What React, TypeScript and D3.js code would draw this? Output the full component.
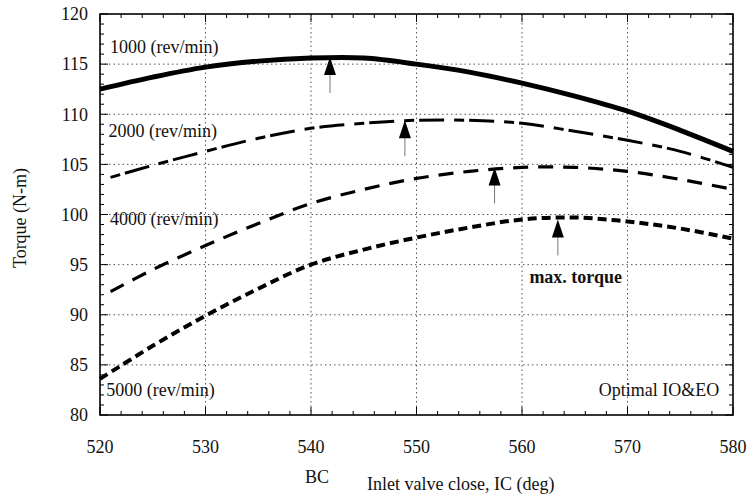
import * as d3 from "d3";

const ivc = [520, 525, 530, 535, 540, 545, 550, 555, 560, 565, 570, 575, 580];
const ivcFrom521 = [521, 525, 530, 535, 540, 545, 550, 555, 560, 565, 570, 575, 580];

const torque1000 = [112.5, 113.7, 114.7, 115.3, 115.6, 115.6, 115.0, 114.2, 113.1, 111.8, 110.3, 108.4, 106.3];
const torque2000 = [103.7, 104.9, 106.3, 107.6, 108.6, 109.1, 109.4, 109.4, 109.1, 108.3, 107.4, 106.3, 104.7];
const torque4000 = [92.3, 94.5, 96.9, 99.1, 101.1, 102.5, 103.6, 104.3, 104.7, 104.7, 104.3, 103.5, 102.5];
const torque5000 = [83.6, 86.9, 89.9, 92.6, 95.0, 96.5, 97.7, 98.7, 99.5, 99.7, 99.3, 98.6, 97.6];

const arrowIvc = [541.8, 548.9, 557.4, 563.4];
const arrowTorque = [115.7, 109.4, 104.7, 99.5];

const xTicks = [520, 530, 540, 550, 560, 570, 580];
const yTicks = [80, 85, 90, 95, 100, 105, 110, 115, 120];

const width = 754;
const height = 495;
const margin = { top: 14, right: 21, bottom: 80, left: 100 };
const font = "'Liberation Serif', 'Times New Roman', serif";

const series = [
  { label: "1000 (rev/min)", xs: ivc, ys: torque1000, width: 5, dash: "", lx: 520.95, ly: 116.1 },
  { label: "2000 (rev/min)", xs: ivcFrom521, ys: torque2000, width: 3, dash: "10 5 25 10", lx: 520.8, ly: 107.7 },
  { label: "4000 (rev/min)", xs: ivcFrom521, ys: torque4000, width: 3.2, dash: "15 10", lx: 520.95, ly: 99.0 },
  { label: "5000 (rev/min)", xs: ivc, ys: torque5000, width: 4, dash: "9 5", lx: 520.6, ly: 81.9 },
];

export default function App() {
  const innerW = width - margin.left - margin.right;
  const innerH = height - margin.top - margin.bottom;
  const x = d3.scaleLinear().domain([520, 580]).range([0, innerW]);
  const y = d3.scaleLinear().domain([80, 120]).range([innerH, 0]);
  const xMinor = d3.range(520, 581, 2);
  const yMinor = d3.range(80, 121, 1);

  return (
    <svg width={width} height={height} style={{ position: "absolute", left: 0, top: 0, background: "#fff" }} fontFamily={font}>
      <g transform={`translate(${margin.left},${margin.top})`}>
        {/* dotted grid */}
        {xTicks.slice(1, -1).map((t) => (
          <line key={`gx${t}`} x1={x(t)} x2={x(t)} y1={0} y2={innerH} stroke="#555" strokeWidth={1} strokeDasharray="1.5 3" />
        ))}
        {yTicks.slice(1, -1).map((t) => (
          <line key={`gy${t}`} x1={0} x2={innerW} y1={y(t)} y2={y(t)} stroke="#555" strokeWidth={1} strokeDasharray="1.5 3" />
        ))}

        {/* ticks on all four sides, pointing inward */}
        {xMinor.map((t) => {
          const len = t % 10 === 0 ? 8 : 4;
          return (
            <g key={`tx${t}`}>
              <line x1={x(t)} x2={x(t)} y1={innerH} y2={innerH - len} stroke="#000" />
              <line x1={x(t)} x2={x(t)} y1={0} y2={len} stroke="#000" />
            </g>
          );
        })}
        {yMinor.map((t) => {
          const len = t % 5 === 0 ? 8 : 4;
          return (
            <g key={`ty${t}`}>
              <line x1={0} x2={len} y1={y(t)} y2={y(t)} stroke="#000" />
              <line x1={innerW} x2={innerW - len} y1={y(t)} y2={y(t)} stroke="#000" />
            </g>
          );
        })}

        {/* curves */}
        {series.map((s) => {
          const pts = s.xs.map((v, i) => [v, s.ys[i]] as [number, number]);
          const path = d3
            .line<[number, number]>()
            .x((d) => x(d[0]))
            .y((d) => y(d[1]))
            .curve(d3.curveCatmullRom)(pts);
          return (
            <path key={s.label} d={path ?? ""} fill="none" stroke="#000" strokeWidth={s.width} strokeDasharray={s.dash || undefined} />
          );
        })}

        {/* max torque arrows */}
        {arrowIvc.map((v, i) => {
          const ax = x(v);
          const ay = y(arrowTorque[i]);
          return (
            <g key={`arrow${i}`}>
              <line x1={ax} x2={ax} y1={ay + 16} y2={ay + 36} stroke="#777" strokeWidth={1} />
              <path d={`M${ax},${ay} L${ax - 6},${ay + 18} L${ax + 6},${ay + 18} Z`} fill="#000" />
            </g>
          );
        })}

        {/* frame */}
        <rect x={0} y={0} width={innerW} height={innerH} fill="none" stroke="#000" strokeWidth={1.6} />

        {/* curve labels */}
        {series.map((s) => (
          <text key={`l${s.label}`} x={x(s.lx)} y={y(s.ly)} fontSize={18} fill="#111">
            {s.label}
          </text>
        ))}
        <text x={x(560.7)} y={y(93.2)} fontSize={18} fontWeight="bold" fill="#111">
          max. torque
        </text>
        <text x={x(578.7)} y={y(81.9)} fontSize={18} textAnchor="end" fill="#111">
          Optimal IO&amp;EO
        </text>

        {/* tick labels */}
        {yTicks.map((t) => (
          <text key={`yl${t}`} x={-12} y={y(t)} dy="0.35em" textAnchor="end" fontSize={18} fill="#111">
            {t}
          </text>
        ))}
        {xTicks.map((t) => (
          <text key={`xl${t}`} x={x(t)} y={innerH + 38} textAnchor="middle" fontSize={18} fill="#111">
            {t}
          </text>
        ))}
        <text x={x(540) + 6} y={innerH + 68} textAnchor="middle" fontSize={18} fill="#111">
          BC
        </text>
      </g>
      <text x={367} y={490} fontSize={18} fill="#111">
        Inlet valve close, IC (deg)
      </text>
      <text transform={`translate(26, 218) rotate(-90)`} textAnchor="middle" fontSize={18} fill="#111">
        Torque (N-m)
      </text>
    </svg>
  );
}
